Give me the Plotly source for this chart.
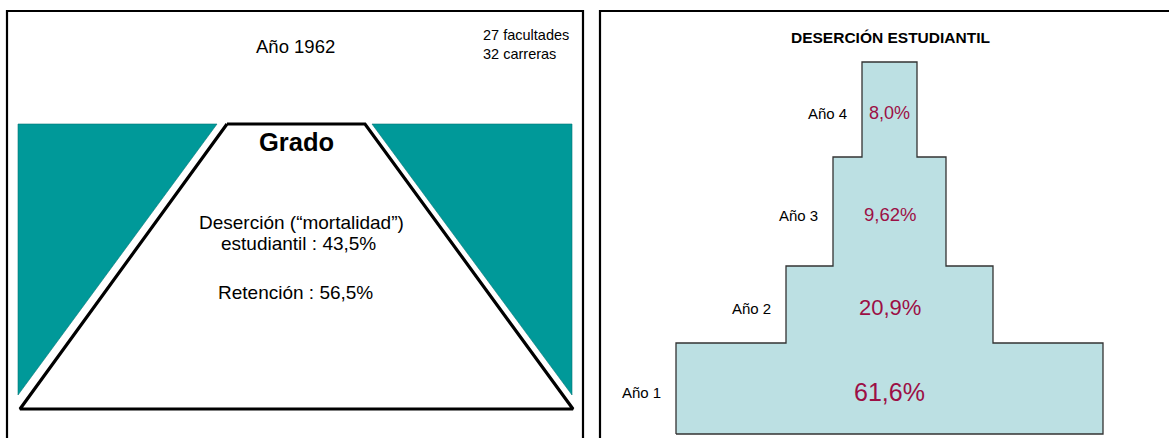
import plotly.graph_objects as go
import numpy as np

# ---------------- data ----------------
years = ["Año 1", "Año 2", "Año 3", "Año 4"]
desertion_pct = ["61,6%", "20,9%", "9,62%", "8,0%"]
block_widths = [427, 207, 113, 55]      # relative widths of the pyramid steps
block_heights = [91, 77, 109, 95]       # relative heights of the pyramid steps
pct_font_sizes = [25, 22, 18.5, 18]

left_title = "Año 1962"
left_note = ["27 facultades", "32 carreras"]
funnel_top_label = "Grado"
funnel_text = ["Deserción (“mortalidad”)", "estudiantil : 43,5%", "", "Retención : 56,5%"]

# left diagram vertices (page-pixel units)
teal_left_x = [18, 217, 18]
teal_left_y = [124, 124, 395]
teal_right_x = [372, 572, 572]
teal_right_y = [124, 124, 395]
funnel_x = [227, 365, 573, 20, 227]
funnel_y = [124, 124, 409, 409, 124]

FONT = "Arial, Liberation Sans, sans-serif"
TEAL = "#009999"
BLUE = "#BCE0E3"
WINE = "#9C0F45"

fig = go.Figure()

# ---------- left panel ----------
fig.add_trace(go.Scatter(x=teal_left_x + [teal_left_x[0]], y=teal_left_y + [teal_left_y[0]],
                         fill="toself", fillcolor=TEAL, mode="lines",
                         line=dict(color="#007777", width=0.6), hoverinfo="skip",
                         xaxis="x", yaxis="y"))
fig.add_trace(go.Scatter(x=teal_right_x + [teal_right_x[0]], y=teal_right_y + [teal_right_y[0]],
                         fill="toself", fillcolor=TEAL, mode="lines",
                         line=dict(color="#007777", width=0.6), hoverinfo="skip",
                         xaxis="x", yaxis="y"))
fig.add_trace(go.Scatter(x=funnel_x, y=funnel_y, fill="toself", fillcolor="white",
                         mode="lines", line=dict(color="black", width=3.2),
                         hoverinfo="skip", xaxis="x", yaxis="y"))

# ---------- right panel: pyramid ----------
w = np.array(block_widths, dtype=float)
h = np.array(block_heights, dtype=float)
bottoms = np.concatenate([[0], np.cumsum(h)[:-1]])
centers = bottoms + h / 2

fig.add_trace(go.Bar(orientation="h", y=centers, x=w, base=-w / 2, width=h,
                     marker=dict(color=BLUE, line=dict(width=0)),
                     hoverinfo="skip", xaxis="x2", yaxis="y2"))

# union outline of the staircase
ox, oy = [-w[0] / 2], [0.0]
for i in range(len(w)):
    top = bottoms[i] + h[i]
    ox += [-w[i] / 2]; oy += [top]
    if i + 1 < len(w):
        ox += [-w[i + 1] / 2]; oy += [top]
rx, ry = [], []
for i in range(len(w) - 1, -1, -1):
    top = bottoms[i] + h[i]
    rx += [w[i] / 2, w[i] / 2]; ry += [top, bottoms[i]]
ox += rx + [-w[0] / 2]; oy += ry + [0.0]
fig.add_trace(go.Scatter(x=ox, y=oy, mode="lines", line=dict(color="#333333", width=1.3),
                         hoverinfo="skip", xaxis="x2", yaxis="y2"))

annotations = []
for i in range(len(years)):
    annotations.append(dict(x=-w[i] / 2 - 13, y=centers[i] - 4, xref="x2", yref="y2",
                            text=years[i], showarrow=False, xanchor="right", yanchor="middle",
                            font=dict(family=FONT, size=15, color="black")))
    annotations.append(dict(x=0, y=centers[i] - 3, xref="x2", yref="y2",
                            text=desertion_pct[i], showarrow=False, xanchor="center",
                            yanchor="middle",
                            font=dict(family=FONT, size=pct_font_sizes[i], color=WINE)))

annotations.append(dict(x=890, y=37, xref="x", yref="y", text="<b>DESERCIÓN ESTUDIANTIL</b>",
                        showarrow=False, font=dict(family=FONT, size=15.5, color="black")))
annotations.append(dict(x=295, y=46, xref="x", yref="y", text=left_title, showarrow=False,
                        font=dict(family=FONT, size=18.5, color="black")))
annotations.append(dict(x=481, y=44, xref="x", yref="y", text="<br>".join(left_note),
                        showarrow=False, xanchor="left", align="left",
                        font=dict(family=FONT, size=14.5, color="black")))
annotations.append(dict(x=296, y=142, xref="x", yref="y", text="<b>" + funnel_top_label + "</b>",
                        showarrow=False, font=dict(family=FONT, size=25.5, color="black")))
for j, (t, yy) in enumerate(zip(funnel_text, [222, 243, 267, 292])):
    if t:
        annotations.append(dict(x=301 if j == 0 else (298 if j == 1 else 295), y=yy,
                                xref="x", yref="y", text=t, showarrow=False,
                                font=dict(family=FONT, size=19, color="black")))

shapes = [
    dict(type="rect", xref="x", yref="y", x0=7, y0=11, x1=583, y1=460,
         line=dict(color="black", width=2.2), fillcolor="rgba(0,0,0,0)", layer="above"),
    dict(type="rect", xref="x", yref="y", x0=600, y0=11, x1=1200, y1=460,
         line=dict(color="black", width=2.2), fillcolor="rgba(0,0,0,0)", layer="above"),
]

center_px = 889.5
base_px = 434
fig.update_layout(
    width=1169, height=438,
    margin=dict(l=0, r=0, t=0, b=0),
    paper_bgcolor="white", plot_bgcolor="rgba(0,0,0,0)",
    showlegend=False,
    xaxis=dict(domain=[0, 1], range=[0, 1169], visible=False, fixedrange=True),
    yaxis=dict(domain=[0, 1], range=[438, 0], visible=False, fixedrange=True),
    xaxis2=dict(domain=[0, 1], range=[-center_px, 1169 - center_px], visible=False,
                anchor="y2", overlaying="x"),
    yaxis2=dict(domain=[0, 1], range=[base_px - 438, base_px], visible=False,
                anchor="x2", overlaying="y"),
    annotations=annotations,
    shapes=shapes,
    barmode="overlay",
)

fig.write_html("out.html")
